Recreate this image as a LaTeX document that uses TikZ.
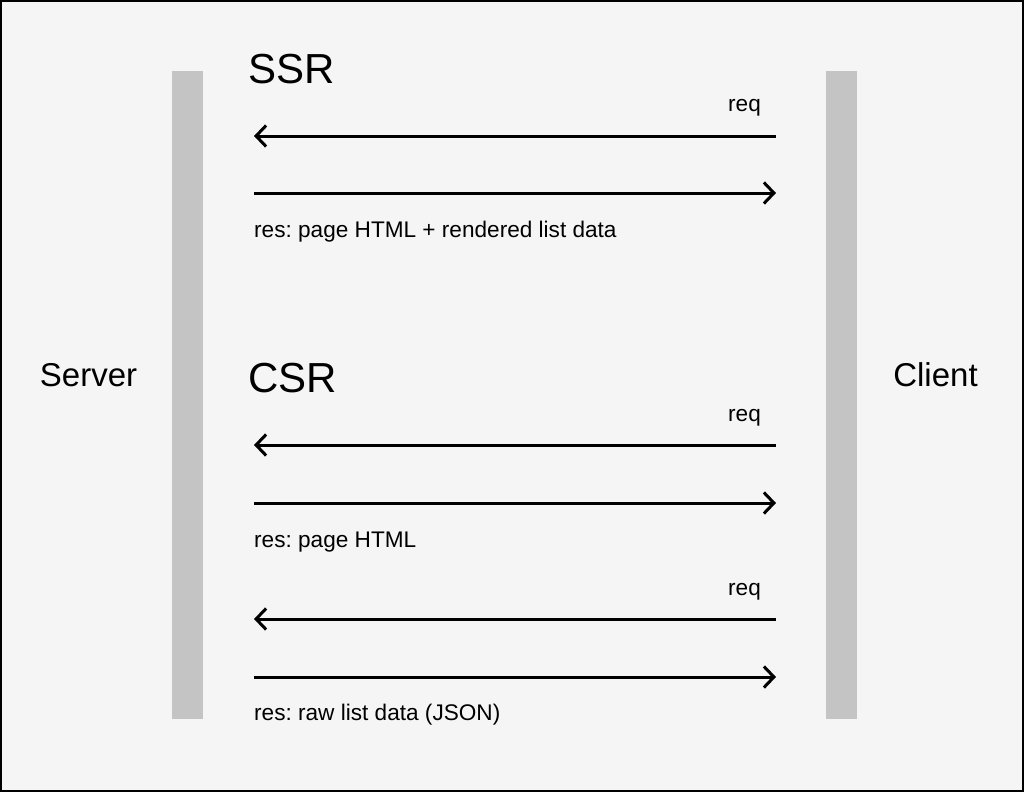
\documentclass[tikz,border=0pt]{standalone}
\usepackage{fontspec}
\setmainfont{Liberation Sans}
\frenchspacing
\usetikzlibrary{arrows.meta}
\definecolor{bg}{HTML}{F5F5F5}
\definecolor{barc}{HTML}{C4C4C4}
\tikzset{
  lifebar/.style={rectangle, fill=barc, draw=none, inner sep=0pt, minimum width=31pt, minimum height=648pt},
  msg/.style={line width=3pt, -{Straight Barb[length=10pt,width=21pt,line width=3pt]}},
  title/.style={font=\fontsize{42}{48}\selectfont, anchor=base west, inner sep=0pt},
  side/.style={font=\fontsize{33}{38}\selectfont, anchor=base, inner sep=0pt},
  lbl/.style={font=\fontsize{22.6}{26}\selectfont, anchor=base west, inner sep=0pt}
}
\begin{document}
\begin{tikzpicture}[x=1pt,y=-1pt]
\useasboundingbox (0,0) rectangle (1024,792);
\draw[fill=bg, line width=2pt] (1,1) rectangle (1023,791);
\node[lifebar] (server) at (187.5,395) {};
\node[lifebar] (client) at (841.5,395) {};
\node[side] (servertxt) at (88.5,386) {Server};
\node[side] (clienttxt) at (935.5,386) {Client};
\node[title] (ssr) at (248,83) {SSR};
\node[title] (csr) at (248,392) {CSR};
% SSR
\coordinate (r1a) at (776,136); \coordinate (r1b) at (254,136);
\coordinate (s1a) at (254,193); \coordinate (s1b) at (776,193);
\draw[msg] (r1a) -- (r1b);
\draw[msg] (s1a) -- (s1b);
\node[lbl] (req1) at (728,111) {req};
\node[lbl] (res1) at (254,237) {res: page HTML + rendered list data};
% CSR 1
\coordinate (r2a) at (776,445); \coordinate (r2b) at (254,445);
\coordinate (s2a) at (254,503); \coordinate (s2b) at (776,503);
\draw[msg] (r2a) -- (r2b);
\draw[msg] (s2a) -- (s2b);
\node[lbl] (req2) at (728,421) {req};
\node[lbl] (res2) at (254,547) {res: page HTML};
% CSR 2
\coordinate (r3a) at (776,619); \coordinate (r3b) at (254,619);
\coordinate (s3a) at (254,677); \coordinate (s3b) at (776,677);
\draw[msg] (r3a) -- (r3b);
\draw[msg] (s3a) -- (s3b);
\node[lbl] (req3) at (728,595) {req};
\node[lbl] (res3) at (254,720) {res: raw list data (JSON)};
\end{tikzpicture}
\end{document}
